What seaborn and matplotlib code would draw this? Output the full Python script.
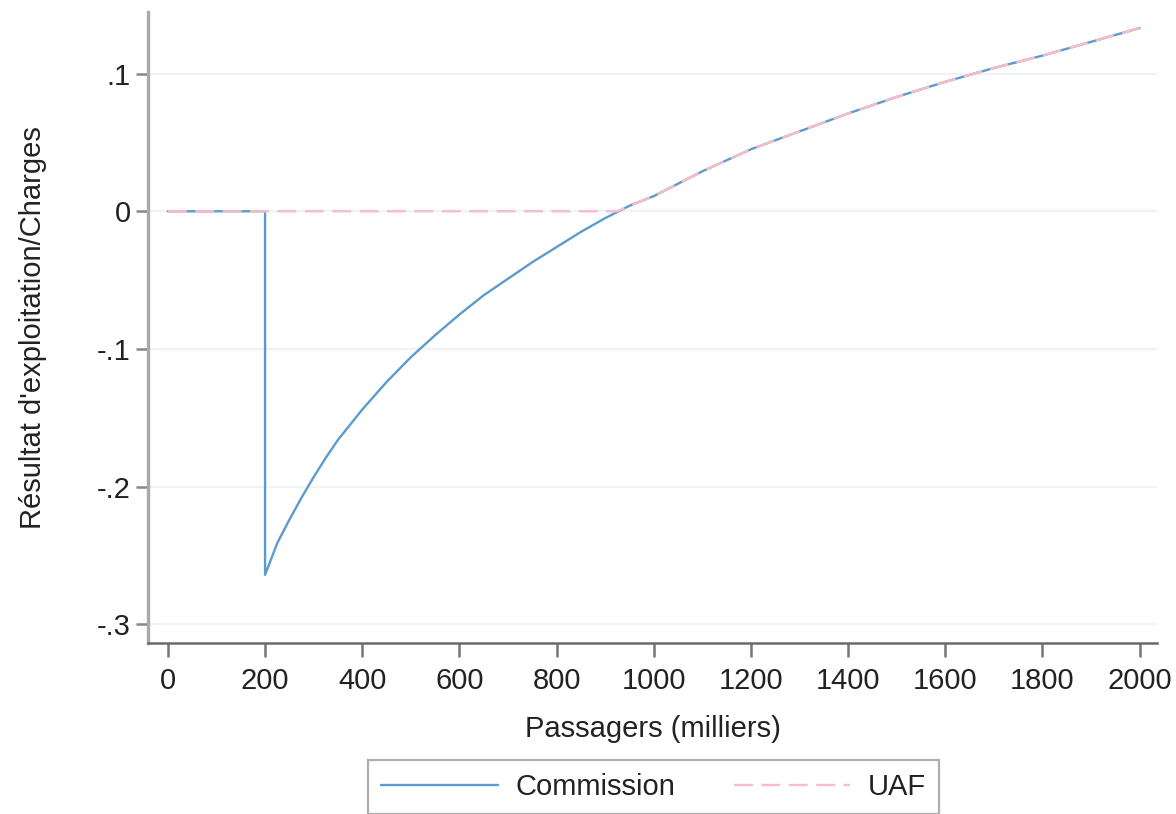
import matplotlib
matplotlib.use("Agg")
import matplotlib.pyplot as plt
import seaborn as sns
import pandas as pd

# ---- data ----
x_commission = [0, 200, 200, 225, 250, 275, 300, 325, 350, 400, 450, 500, 550, 600,
                650, 700, 750, 800, 850, 900, 950, 1000, 1100, 1200, 1300, 1400,
                1500, 1600, 1700, 1800, 1900, 2000]
y_commission = [0.0, 0.0, -0.264, -0.241, -0.224, -0.208, -0.193, -0.179, -0.166,
                -0.144, -0.124, -0.106, -0.090, -0.075, -0.061, -0.049, -0.037,
                -0.026, -0.015, -0.005, 0.004, 0.011, 0.029, 0.045, 0.058, 0.071,
                0.083, 0.094, 0.104, 0.113, 0.123, 0.133]
x_uaf = [0, 925, 950, 1000, 1100, 1200, 1300, 1400, 1500, 1600, 1700, 1800, 1900, 2000]
y_uaf = [0.0, 0.0, 0.004, 0.011, 0.029, 0.045, 0.058, 0.071, 0.083, 0.094, 0.104,
         0.113, 0.123, 0.133]

x_ticks = [0, 200, 400, 600, 800, 1000, 1200, 1400, 1600, 1800, 2000]
y_ticks = [0.1, 0.0, -0.1, -0.2, -0.3]
y_tick_labels = [".1", "0", "-.1", "-.2", "-.3"]
series_names = ["Commission", "UAF"]
x_label = "Passagers (milliers)"
y_label = "Résultat d'exploitation/Charges"

df_c = pd.DataFrame({"x": x_commission, "y": y_commission})
df_u = pd.DataFrame({"x": x_uaf, "y": y_uaf})

sns.set_theme(style="white")
plt.rcParams["font.family"] = ["Liberation Sans", "DejaVu Sans"]

blue = "#5b9bcf"
pink = "#f8bccb"

fig = plt.figure(figsize=(11.76, 8.14), dpi=100)
ax = fig.add_axes([148 / 1176, 1 - 643 / 814, (1157 - 148) / 1176, (643 - 12) / 814])

sns.lineplot(data=df_c, x="x", y="y", ax=ax, estimator=None, sort=False,
             color=blue, linewidth=1.7, label=series_names[0])
sns.lineplot(data=df_u, x="x", y="y", ax=ax, estimator=None, sort=False,
             color=pink, linewidth=1.7, label=series_names[1],
             dashes=False)
ax.lines[1].set_dashes([8.0, 3.6])

ax.set_xlim(-41, 2036)
ax.set_ylim(-0.3135, 0.1447)
ax.set_xticks(x_ticks)
ax.set_xticklabels([str(t) for t in x_ticks])
ax.set_yticks(y_ticks)
ax.set_yticklabels(y_tick_labels)

ax.yaxis.grid(True, color="#eef3f3", linewidth=1.6)
ax.xaxis.grid(False)
ax.set_axisbelow(True)

for s in ["top", "right"]:
    ax.spines[s].set_visible(False)
ax.spines["left"].set_color("#a9a9a9")
ax.spines["left"].set_linewidth(2.4)
ax.spines["bottom"].set_color("#6a6a6a")
ax.spines["bottom"].set_linewidth(1.8)

ax.tick_params(axis="x", direction="out", length=10, width=1.8, color="#777777",
               pad=7, labelsize=21, labelcolor="#222222", bottom=True)
ax.tick_params(axis="y", direction="out", length=8.5, width=1.8, color="#888888",
               pad=4, labelsize=21, labelcolor="#222222", left=True)

ax.set_xlabel(x_label, fontsize=21, color="#222222", labelpad=15)
ax.set_ylabel(y_label, fontsize=21, color="#222222", labelpad=36)

ax.get_legend().remove()
handles = ax.lines[:2]
leg = fig.legend(handles, series_names, loc="center", ncol=2,
                 bbox_to_anchor=(653.5 / 1176, 1 - 787 / 814),
                 fontsize=21, frameon=True, fancybox=False, edgecolor="#9a9a9a",
                 handlelength=4.0, handletextpad=0.6, columnspacing=2.0,
                 borderpad=0.45, borderaxespad=0)
leg.get_frame().set_linewidth(1.6)
for t in leg.get_texts():
    t.set_color("#222222")

fig.savefig("out.png", dpi=100)
